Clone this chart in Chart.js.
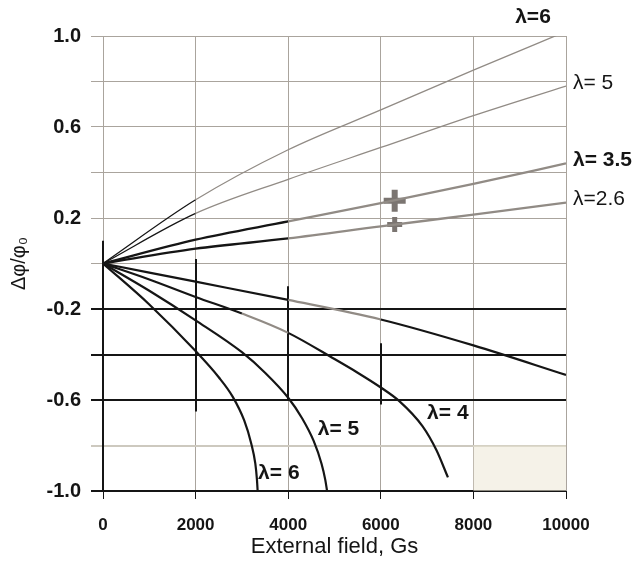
<!DOCTYPE html>
<html>
<head>
  <meta charset="UTF-8" />
  <title>Δφ/φ0 vs External field</title>
  <script src="https://cdn.jsdelivr.net/npm/chart.js"></script>
  <style>
    body {
      margin: 0;
      background-color: #ffffff;
    }
    canvas {
      display: block;
    }
  </style>
</head>
<body>
  <canvas id="grafico" width="636" height="564"></canvas>

  <script>
    // upper branches, sampled every 2000 Gs
    const campoSup = [0, 2000, 4000, 6000, 8000, 10000];
    const sup6 = [0, 0.28, 0.50, 0.675, 0.85, 1.02];
    const sup5 = [0, 0.22, 0.37, 0.51, 0.65, 0.78];
    const sup35 = [0, 0.105, 0.185, 0.265, 0.35, 0.44];
    const sup26 = [0, 0.065, 0.11, 0.163, 0.215, 0.268];
    const nomesSup = ['λ=6', 'λ= 5', 'λ= 3.5', 'λ=2.6'];

    // lower branches
    const campoInfA = [0, 2000, 4000, 6000, 8000, 10000];
    const infA = [0, -0.08, -0.16, -0.246, -0.36, -0.49];
    const campoInf4 = [0, 1000, 2000, 3000, 4000, 5000, 5500, 6000, 6400, 6900, 7200, 7450];
    const inf4 = [0, -0.07, -0.147, -0.22, -0.305, -0.42, -0.48, -0.545, -0.605, -0.715, -0.82, -0.94];
    const campoInf5 = [0, 1000, 2000, 3000, 3500, 4000, 4300, 4550, 4720, 4800, 4840];
    const inf5 = [0, -0.12, -0.25, -0.39, -0.48, -0.59, -0.68, -0.78, -0.88, -0.95, -1.0];
    const campoInf6 = [0, 1000, 2000, 2500, 2800, 3050, 3200, 3290, 3325, 3340];
    const inf6 = [0, -0.18, -0.385, -0.50, -0.585, -0.69, -0.79, -0.88, -0.95, -1.0];

    // the two measured points
    const medidasX = [6300, 6300];
    const medidasY = [0.276, 0.171];

    // label anchors for the lower branches (data units)
    const nomesInf = ['λ= 6', 'λ= 5', 'λ= 4'];
    const posInf = [[3350, -0.92], [4640, -0.73], [7000, -0.66]];

    const yRotulos = [1.0, 0.6, 0.2, -0.2, -0.6, -1.0];
    const yEscuros = [-0.2, -0.4, -0.6, -1.0];

    const CINZA = '#918b85';
    const GRADE = '#aaa49d';
    const CLARO = '#cdc9bf';
    const PRETO = '#151515';
    const FONTE = '"Liberation Sans", Arial, sans-serif';

    const pares = (xs, ys) => xs.map((v, i) => ({ x: v, y: ys[i] }));

    // gray between [de, ate], black elsewhere
    function corTrecho(de, ate) {
      return ctx => (ctx.p0.parsed.x >= de && ctx.p1.parsed.x <= ate) ? CINZA : PRETO;
    }

    function curva(xs, ys, largura, de, ate) {
      return {
        data: pares(xs, ys),
        borderColor: PRETO,
        borderWidth: largura,
        pointRadius: 0,
        cubicInterpolationMode: 'monotone',
        segment: { borderColor: corTrecho(de, ate) }
      };
    }

    const series = [
      curva(campoSup, sup6, 1.3, 2000, 99999),
      curva(campoSup, sup5, 1.3, 2000, 99999),
      curva(campoSup, sup35, 2.3, 4000, 99999),
      curva(campoSup, sup26, 2.3, 4000, 99999),
      curva(campoInfA, infA, 2.2, 4000, 6000),
      curva(campoInf4, inf4, 2.2, 3000, 4000),
      curva(campoInf5, inf5, 2.2, -1, -1),
      curva(campoInf6, inf6, 2.2, -1, -1),
      {
        type: 'scatter',
        data: pares(medidasX, medidasY),
        pointStyle: 'cross',
        pointRadius: [11, 7.5],
        borderWidth: [6, 5],
        borderColor: '#7b7571'
      }
    ];

    const ehEscuro = v => yEscuros.some(e => Math.abs(e - v) < 1e-6);
    const ehClaro = v => Math.abs(v + 0.8) < 1e-6;

    // faint patch, dark lower stems and the λ labels
    const extras = {
      id: 'extras',
      beforeDatasetsDraw(chart) {
        const { ctx, scales: { x, y } } = chart;
        ctx.save();
        ctx.fillStyle = 'rgba(236, 232, 214, 0.55)';
        const x0 = x.getPixelForValue(8000), x1 = x.getPixelForValue(10000);
        const y0 = y.getPixelForValue(-0.8), y1 = y.getPixelForValue(-1.0);
        ctx.fillRect(x0, y0, x1 - x0, y1 - y0);

        ctx.strokeStyle = PRETO;
        ctx.lineWidth = 2;
        [[0, 0.1, -1.0], [2000, 0.02, -0.65], [4000, -0.1, -0.6], [6000, -0.35, -0.62]].forEach(([v, a, b]) => {
          const px = Math.round(x.getPixelForValue(v));
          ctx.beginPath();
          ctx.moveTo(px, y.getPixelForValue(a));
          ctx.lineTo(px, y.getPixelForValue(b));
          ctx.stroke();
        });
        ctx.restore();
      },
      afterDatasetsDraw(chart) {
        const { ctx, scales: { x, y } } = chart;
        ctx.save();
        ctx.fillStyle = PRETO;
        ctx.textBaseline = 'middle';
        [sup6, sup5, sup35, sup26].forEach((ys, i) => {
          const px = x.getPixelForValue(campoSup[campoSup.length - 1]);
          const py = y.getPixelForValue(ys[ys.length - 1]);
          ctx.font = (i === 2 || i === 0 ? 'bold ' : '') + '21px ' + FONTE;
          if (i === 0) {
            ctx.textAlign = 'center';
            ctx.fillText(nomesSup[i], px - 33, py - 14);
          } else {
            ctx.textAlign = 'left';
            ctx.fillText(nomesSup[i], px + 7, py - 3);
          }
        });
        ctx.font = 'bold 21px ' + FONTE;
        ctx.textAlign = 'left';
        nomesInf.forEach((t, i) => {
          ctx.fillText(t, x.getPixelForValue(posInf[i][0]), y.getPixelForValue(posInf[i][1]));
        });
        ctx.restore();
      }
    };

    new Chart(document.getElementById('grafico').getContext('2d'), {
      type: 'line',
      data: { datasets: series },
      plugins: [extras],
      options: {
        responsive: false,
        animation: false,
        layout: { padding: { top: 36, right: 70, left: 0, bottom: 0 } },
        plugins: {
          legend: { display: false },
          tooltip: { enabled: false }
        },
        scales: {
          x: {
            type: 'linear',
            min: 0,
            max: 10000,
            border: { display: false },
            afterFit: s => { s.height = 73; },
            grid: {
              color: GRADE,
              lineWidth: 1,
              tickLength: 8,
              tickColor: PRETO
            },
            ticks: {
              stepSize: 2000,
              padding: 16,
              color: PRETO,
              font: { family: FONTE, size: 17, weight: 'bold' },
              callback: v => String(v)
            },
            title: {
              display: true,
              text: 'External field, Gs',
              color: PRETO,
              padding: { top: 0, bottom: 4 },
              font: { family: FONTE, size: 22 }
            }
          },
          y: {
            min: -1,
            max: 1,
            border: { display: false },
            afterFit: s => { s.width = 103; },
            grid: {
              color: c => ehEscuro(c.tick.value) ? PRETO : (ehClaro(c.tick.value) ? CLARO : GRADE),
              lineWidth: c => (ehEscuro(c.tick.value) || ehClaro(c.tick.value)) ? 2 : 1,
              tickColor: c => ehEscuro(c.tick.value) ? PRETO : (ehClaro(c.tick.value) ? CLARO : GRADE),
              tickLength: 12
            },
            ticks: {
              stepSize: 0.2,
              padding: 10,
              color: PRETO,
              font: { family: FONTE, size: 20, weight: 'bold' },
              callback: v => yRotulos.some(r => Math.abs(r - v) < 1e-6) ? v.toFixed(1) : ''
            },
            title: {
              display: true,
              text: 'Δφ/φ₀',
              color: PRETO,
              padding: { top: 7, bottom: 0 },
              font: { family: FONTE, size: 20 }
            }
          }
        }
      }
    });
  </script>
</body>
</html>
